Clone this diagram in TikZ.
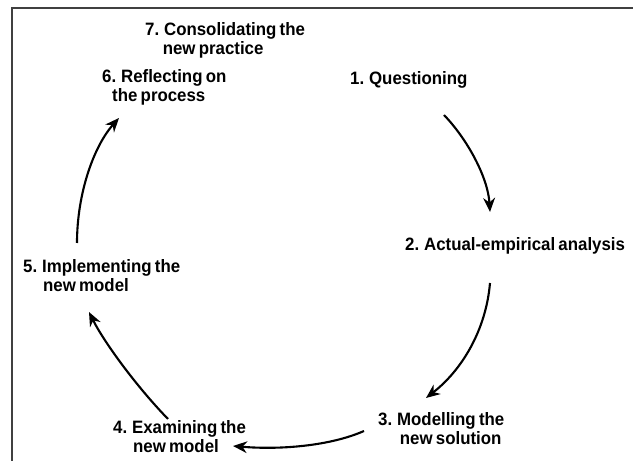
\documentclass[tikz,border=0pt]{standalone}
\usepackage{fontspec}
\setmainfont{Liberation Sans}[WordSpace=0.7,FakeStretch=0.94]
\usetikzlibrary{arrows.meta}
\definecolor{FrameGray}{HTML}{404040}

\begin{document}
\begin{tikzpicture}[
      x=0.03cm,y=-0.03cm,
      stage/.style={anchor=north west,inner sep=0pt,align=left,
                    font=\fontsize{15.3}{16.8}\selectfont\bfseries},
      arr/.style={-{Stealth[length=12pt,width=10pt]},line width=1.8pt,black},
    ]
    \useasboundingbox (0,0) rectangle (633,461);
    \draw[FrameGray,line width=1.5pt] (12,461) -- (12,8) -- (633,8);

    \node[stage] (cons) at (145,22) {7. Consolidating the\\\hspace*{15pt}new practice};
    \node[stage] (refl) at (102,69) {6. Reflecting on\\\hspace*{8.5pt}the process};
    \node[stage] (ques) at (350,71) {1. Questioning};
    \node[stage] (anal) at (405,237) {2. Actual-empirical analysis};
    \node[stage] (mode) at (378,412) {3. Modelling the\\\hspace*{18.5pt}new solution};
    \node[stage] (exam) at (113,420) {4. Examining the\\\hspace*{17pt}new model};
    \node[stage] (impl) at (23,259) {5. Implementing the\\\hspace*{17pt}new model};

    % arrow ends around the cycle
    \coordinate (ques-out) at (444,115);
    \coordinate (anal-in)  at (490,212);
    \coordinate (anal-out) at (490,283);
    \coordinate (mode-in)  at (426,398);
    \coordinate (mode-out) at (364,431);
    \coordinate (exam-in)  at (233,446);
    \coordinate (exam-out) at (168,419);
    \coordinate (impl-in)  at (89,312);
    \coordinate (impl-out) at (77,243);
    \coordinate (refl-in)  at (119,118);

    \draw[arr] (ques-out) .. controls (468,140) and (488,178) .. (anal-in);
    \draw[arr] (anal-out) .. controls (486,330) and (462,370) .. (mode-in);
    \draw[arr] (mode-out) .. controls (330,446) and (280,450) .. (exam-in);
    \draw[arr] (exam-out) .. controls (136,386) and (104,342) .. (impl-in);
    \draw[arr] (impl-out) .. controls (77,193) and (94,146) .. (refl-in);
  \end{tikzpicture}
\end{document}
